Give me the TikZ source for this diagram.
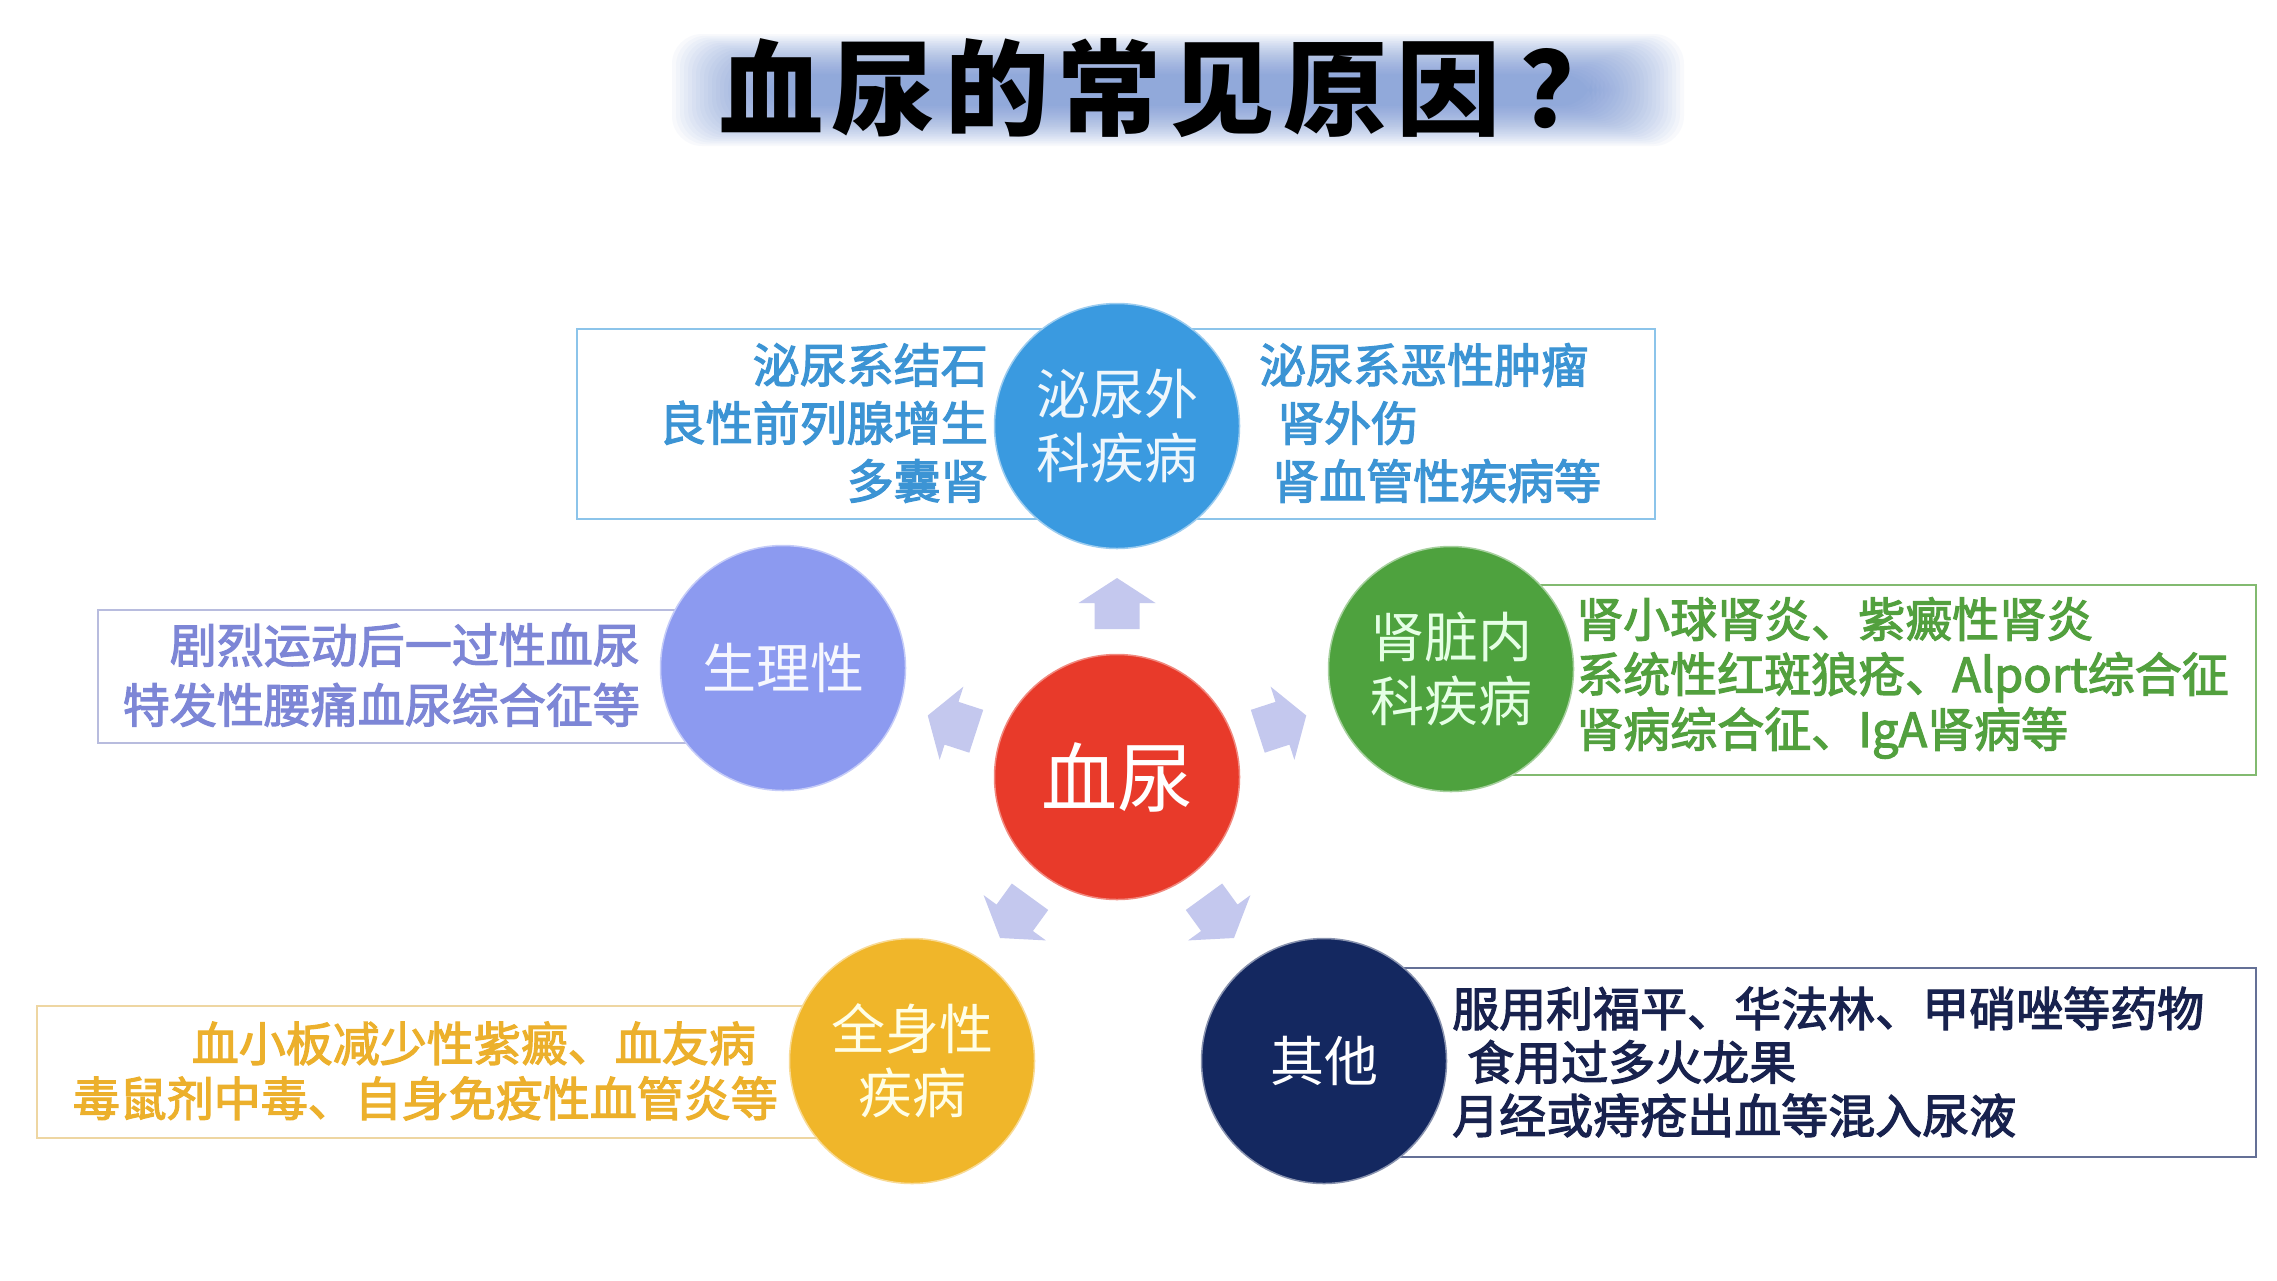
\documentclass[tikz,border=0pt]{standalone}
\usepackage{fontspec}
\newfontfamily\cjk{Noto Sans CJK SC}
\newfontfamily\cjkm{Noto Sans CJK SC}[RawFeature={embolden=2.5}]
\newfontfamily\cjkt{Noto Sans CJK SC}
\definecolor{bluec}{RGB}{58,154,224}
\definecolor{bluet}{RGB}{60,148,212}
\definecolor{bluebd}{RGB}{140,196,234}
\definecolor{purc}{RGB}{140,154,240}
\definecolor{purt}{RGB}{125,134,214}
\definecolor{purbd}{RGB}{184,188,222}
\definecolor{grnc}{RGB}{78,162,62}
\definecolor{grnt}{RGB}{82,160,62}
\definecolor{grnbd}{RGB}{130,186,112}
\definecolor{redc}{RGB}{232,58,42}
\definecolor{yelc}{RGB}{240,182,42}
\definecolor{yelt}{RGB}{236,176,44}
\definecolor{yelbd}{RGB}{238,214,162}
\definecolor{navc}{RGB}{20,40,96}
\definecolor{navt}{RGB}{24,34,78}
\definecolor{navbd}{RGB}{100,112,150}
\definecolor{arrc}{RGB}{196,200,238}
\definecolor{glowc}{RGB}{100,134,208}
\begin{document}
\begin{tikzpicture}[x=1pt,y=-1pt,
  frame/.style={line width=2.5pt, fill=white},
  circ/.style={circle, inner sep=0pt, minimum size=245pt, align=center,
    font=\cjk\fontsize{54}{64}\selectfont},
  boxtext/.style={inner sep=0pt},
  arrowshape/.style={fill=arrc}]
\useasboundingbox (0,0) rectangle (2277,1280);
\fill[white] (0,0) rectangle (2277,1280);

% title glow
\foreach \i in {0,...,23}{
  \fill[glowc, opacity=0.045, rounded corners=30pt]
    ({672+\i*4},{34+\i*1.75}) rectangle ({1684-\i*4},{146-\i*1.75});
}
\node[font=\cjkt\bfseries\fontsize{104}{110}\selectfont, text=black, inner sep=0pt]
  (title) at (1172,88) {血\hspace{9pt}尿\hspace{9pt}的\hspace{9pt}常\hspace{9pt}见\hspace{9pt}原\hspace{9pt}因\hspace{20pt}？};

% boxes
\draw[frame, draw=bluebd] (577,329) rectangle (1655,519);
\draw[frame, draw=purbd] (98,610) rectangle (790,743);
\draw[frame, draw=grnbd] (1500,585) rectangle (2256,775);
\draw[frame, draw=yelbd] (37,1006) rectangle (950,1138);
\draw[frame, draw=navbd] (1300,968) rectangle (2256,1157);

% circles
\node[circ, fill=redc, draw=redc!60!white, line width=1.5pt, text=white,
  font=\cjk\fontsize{76}{80}\selectfont] (center) at (1117,777) {血尿};
\node[circ, fill=bluec, draw=bluec!50!white, line width=1.5pt, text=white!92!bluec] (uro) at (1117,426) {泌尿外\\科疾病};
\node[circ, fill=purc, draw=purc!50!white, line width=1.5pt, text=white!92!purc] (phys) at (783,668) {生理性};
\node[circ, fill=grnc, draw=grnc!50!white, line width=1.5pt, text=white!90!green] (neph) at (1451,669) {肾脏内\\科疾病};
\node[circ, fill=yelc, draw=yelc!50!white, line width=1.5pt, text=white!90!yellow] (sys) at (912,1061) {全身性\\疾病};
\node[circ, fill=navc, draw=navc!50!white, line width=1.5pt, text=white] (other) at (1324,1061) {其他};

% arrows (page angles)
\foreach \a in {90,162,18,234,306}{
  \begin{scope}[shift={(center.center)}, shift={(-\a:174)}, rotate=\a]
    \fill[arrowshape] (-26,-22.5) -- (0,-22.5) -- (0,-38.5) -- (25,0)
      -- (0,38.5) -- (0,22.5) -- (-26,22.5) -- cycle;
  \end{scope}
}

% texts
\node[boxtext, text=bluet, align=right, anchor=east, font=\cjkm\fontsize{47}{58}\selectfont] (uroL) at (988,423)
  {泌尿系结石\\良性前列腺增生\\多囊肾};
\node[boxtext, text=bluet, align=left, anchor=west, font=\cjkm\fontsize{47}{58}\selectfont] (uroR) at (1259,423)
  {泌尿系恶性肿瘤\\\hspace*{18pt}肾外伤\\\hspace*{13pt}肾血管性疾病等};
\node[boxtext, text=purt, align=right, anchor=east, font=\cjkm\fontsize{47}{60}\selectfont] (physT) at (640,675)
  {剧烈运动后一过性血尿\\特发性腰痛血尿综合征等};
\node[boxtext, text=grnt, align=left, anchor=west, font=\cjkm\fontsize{47}{55}\selectfont] (nephT) at (1576,678)
  {肾小球肾炎、紫癜性肾炎\\系统性红斑狼疮、Alport综合征\\肾病综合征、IgA肾病等};
\node[boxtext, text=yelt, align=right, anchor=east, font=\cjkm\fontsize{47}{55}\selectfont] (sysT) at (778,1071)
  {血小板减少性紫癜、血友病\hspace*{22pt}\\毒鼠剂中毒、自身免疫性血管炎等};
\node[boxtext, text=navt, align=left, anchor=west, font=\cjkm\fontsize{47}{53.5}\selectfont] (otherT) at (1452,1062)
  {服用利福平、华法林、甲硝唑等药物\\\hspace*{15pt}食用过多火龙果\\月经或痔疮出血等混入尿液};
\end{tikzpicture}
\end{document}
